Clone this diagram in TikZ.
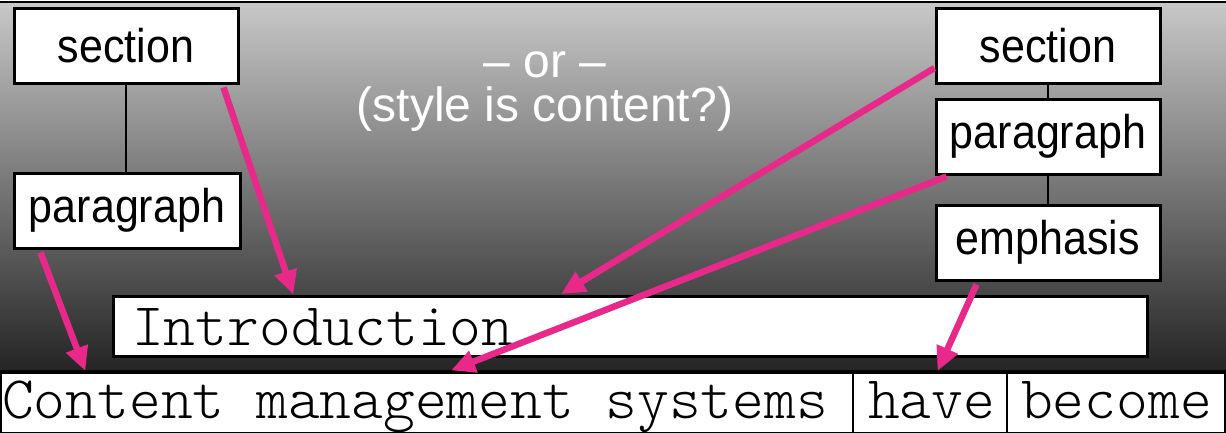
\documentclass[tikz,border=0pt]{standalone}
\usepackage{fontspec}
\setmainfont{Liberation Sans}
\setmonofont{Latin Modern Mono Light}
\usetikzlibrary{arrows.meta,calc}
\definecolor{hot}{RGB}{232,41,138}
\newcommand{\tall}[1]{\scalebox{1}[1.1]{#1}}
\tikzset{
  tag/.style={draw=black, line width=3pt, fill=white, inner sep=0pt,
    minimum width=224pt, minimum height=75pt,
    font=\fontsize{43}{43}\selectfont},
  cell/.style={draw=black, line width=2pt, fill=white, inner sep=0pt,
    minimum height=60pt},
  mono/.style={anchor=base west, inner sep=0pt,
    font=\ttfamily\fontsize{60.5}{60.5}\selectfont},
  tree/.style={line width=2pt, black},
  pointer/.style={line width=6.5pt, hot,
    -{Triangle[length=24pt,width=22pt]}, shorten >=-1pt},
}
\begin{document}
\begin{tikzpicture}[x=1pt,y=-1pt]
\useasboundingbox (0,0) rectangle (1226,432);
% backdrop: grey shading, light at the top and dark at the bottom
\shade[top color={rgb,255:red,200;green,200;blue,200},
       bottom color={rgb,255:red,36;green,36;blue,36}]
  (0,2) rectangle (1226,372);
\draw[line width=2pt] (0,2) -- (1226,2);

% heading in the middle
\node[white, font=\fontsize{48}{48}\selectfont, anchor=base, inner sep=0pt]
  (alt1) at (545,77) {-- or --};
\node[white, font=\fontsize{48}{48}\selectfont, anchor=base, inner sep=0pt]
  (alt2) at (545,121) {(style is content?)};

% tree on the left
\node[tag] (secL) at (126,45.5) {\tall{section}};
\node[tag, minimum width=226pt] (parL) at (127,210.5) {\tall{paragraph}};
\draw[tree] (secL.south) -- (secL.south |- parL.north);

% tree on the right
\node[tag] (secR) at (1048,46) {\tall{section}};
\node[tag] (parR) at (1048,136.5) {\tall{paragraph}};
\node[tag] (emR) at (1048,242.5) {\tall{emphasis}};
\draw[tree] (secR) -- (parR);
\draw[tree] (parR) -- (emR);

% heading line in mono type
\node[draw=black, line width=3pt, fill=white, inner sep=0pt,
      minimum width=1034pt, minimum height=60pt, anchor=west]
  (intro) at (112,326) {};
\node[mono] (introtext) at (132,345) {Introduction};

% running text split into cells
\node[cell, minimum width=852pt, anchor=north west] (w1) at (0,372) {};
\node[cell, minimum width=154pt, anchor=north west] (w2) at (852,372) {};
\node[cell, minimum width=218pt, anchor=north west] (w3) at (1006,372) {};
\node[mono] (t1) at (2,418) {Content management systems};
\node[mono] (t2) at (868,418) {have};
\node[mono] (t3) at (1021,418) {become};
\draw[line width=4pt] (w1.north west) -- (w3.north east);

% pointers from tags to the text they mark
\draw[pointer] ($(secL.south east)+(-16,3)$) -- ($(intro.north west)+(181,-1)$);
\draw[pointer] ($(parL.south west)+(28,3)$) -- ($(w1.north west)+(85,-2)$);
\draw[pointer] ($(secR.west)+(0,22)$) -- ($(intro.north west)+(450,-1)$);
\draw[pointer] ($(parR.south west)+(12,1)$) -- ($(w1.north west)+(452,-2)$);
\draw[pointer] ($(emR.south west)+(42,3)$) -- ($(w2.north west)+(86,-2)$);
\end{tikzpicture}
\end{document}
